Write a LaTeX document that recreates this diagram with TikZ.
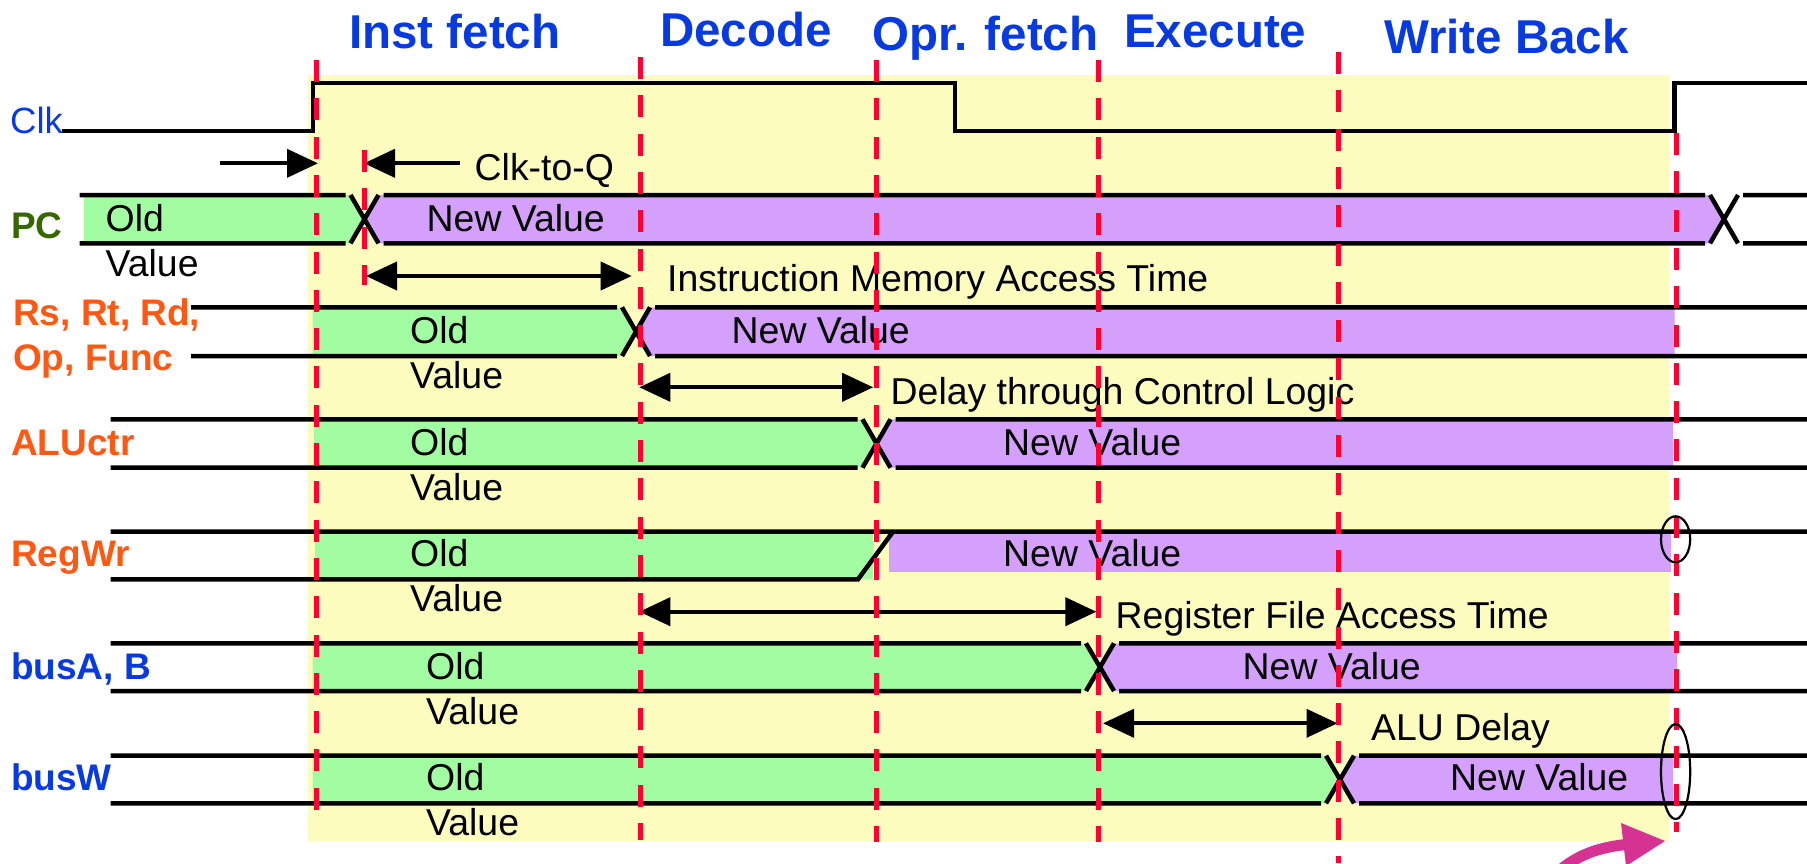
\documentclass[tikz,border=0pt]{standalone}
\usepackage{fontspec}
\setmainfont{Liberation Sans}
\usetikzlibrary{arrows.meta}

\definecolor{phaseblue}{RGB}{8,58,226}
\definecolor{pcgreen}{RGB}{54,104,0}
\definecolor{ctrlorange}{RGB}{255,88,18}
\definecolor{stagebg}{RGB}{252,252,190}
\definecolor{oldfillc}{RGB}{162,253,162}
\definecolor{newfillc}{RGB}{212,160,252}
\definecolor{edgered}{RGB}{255,0,51}
\definecolor{notepink}{RGB}{214,50,145}

\tikzset{
  sig/.style={line width=4.5, black},
  oldfill/.style={fill=oldfillc},
  newfill/.style={fill=newfillc},
  edge/.style={edgered, line width=5, dash pattern=on 22 off 16.3},
  dimarrow/.style={line width=4, black},
  phase/.style={font=\bfseries\fontsize{47.5}{50}\selectfont, text=phaseblue, anchor=base west, inner sep=0},
  signame/.style={font=\bfseries\fontsize{37}{40}\selectfont, anchor=base west, inner sep=0},
  val/.style={font=\fontsize{37.4}{40}\selectfont, anchor=base west, inner sep=0},
  ringmark/.style={line width=2.2, black},
}

% one bus row: #1 top, #2 bottom, #3 line start, #4 fill start, #5 crossing x, #6 fill end
\newcommand\timingrow[6]{%
  \pgfmathsetmacro\rmid{(#1+#2)/2}
  \fill[oldfill] (#4,#1) -- (#5-14,#1) -- (#5,\rmid) -- (#5-14,#2) -- (#4,#2) -- cycle;
  \fill[newfill] (#5+14,#1) -- (#5,\rmid) -- (#5+14,#2) -- (#6,#2) -- (#6,#1) -- cycle;
  \draw[sig] (#3,#1) -- (#5-19,#1) (#5+19,#1) -- (1807,#1)
             (#3,#2) -- (#5-19,#2) (#5+19,#2) -- (1807,#2)
             (#5-14,#1) -- (#5+14,#2) (#5-14,#2) -- (#5+14,#1);
}

\begin{document}
\begin{tikzpicture}[x=1pt,y=-1pt]
\useasboundingbox (0,0) rectangle (1807,863);

% stage background
\fill[stagebg] (308,75) rectangle (1668.5,841);

% ---- clock ----
\coordinate (clkstart) at (62,131);
\draw[sig] (clkstart) -- (313,131) -- (313,83) -- (955,83) -- (955,131)
  -- (1674.5,131) -- (1674.5,83) -- (1807,83);

% ---- PC ----
\fill[oldfill] (84,195) -- (350.5,195) -- (364.5,219.2) -- (350.5,243.3) -- (84,243.3) -- cycle;
\fill[newfill] (378.5,195) -- (364.5,219.2) -- (378.5,243.3) -- (1710,243.3) -- (1724,219.2) -- (1710,195) -- cycle;
\draw[sig] (79.5,195) -- (345.5,195) (383.5,195) -- (1705,195) (1743,195) -- (1807,195)
           (79.5,243.3) -- (345.5,243.3) (383.5,243.3) -- (1705,243.3) (1743,243.3) -- (1807,243.3)
           (350.5,195) -- (378.5,243.3) (350.5,243.3) -- (378.5,195)
           (1710,195) -- (1738,243.3) (1710,243.3) -- (1738,195);

% ---- Rs, Rt, Rd, Op, Func ----
\timingrow{307.3}{356}{191}{312.5}{636}{1674.5}

% ---- ALUctr ----
\timingrow{419.3}{467.7}{110.7}{314}{876.5}{1673}

% ---- RegWr: rises from old value to 1 ----
\fill[oldfill] (315,531.7) rectangle (873,579.3);
\fill[newfill] (889,534) rectangle (1671,572);
\draw[sig] (110.7,531.7) -- (1807,531.7)
           (110.7,579.3) -- (858,579.3) -- (893,531.7);

% ---- busA, B ----
\timingrow{643.3}{691}{110.7}{312.5}{1100}{1677}

% ---- busW ----
\timingrow{755.7}{803.3}{110.7}{312.5}{1340}{1673}

% ---- signal names ----
\node[phase, font=\fontsize{36.5}{40}\selectfont] (nclk) at (10,133) {Clk};
\node[signame, text=pcgreen] (npc) at (11,238) {PC};
\node[signame, text=ctrlorange] (nrs) at (13,325) {Rs, Rt, Rd,};
\node[signame, text=ctrlorange] (nop) at (13,370) {Op, Func};
\node[signame, text=ctrlorange] (nalu) at (11,455) {ALUctr};
\node[signame, text=ctrlorange] (nreg) at (11,566.7) {RegWr};
\node[signame, text=phaseblue] (nbusa) at (11,679) {busA, B};
\node[signame, text=phaseblue] (nbusw) at (11,790.7) {busW};

% ---- stage titles ----
\node[phase] (tif) at (349,48) {Inst fetch};
\node[phase] (tdec) at (660,46) {Decode};
\node[phase] (topr) at (872,50.5) {Opr. fetch};
\node[phase] (texe) at (1124,47.5) {Execute};
\node[phase] (twb) at (1384,53) {Write Back};

% ---- values ----
\node[val] (pcold) at (105.5,231.7) {Old};
\node[val] (pcoldv) at (105.5,276) {Value};
\node[val] (pcnew) at (426.5,231.7) {New Value};
\node[val] (rsold) at (410,343.3) {Old};
\node[val] (rsoldv) at (410,388.3) {Value};
\node[val] (rsnew) at (731.5,343.3) {New Value};
\node[val] (aluold) at (410,455) {Old};
\node[val] (aluoldv) at (410,500) {Value};
\node[val] (alunew) at (1003,455) {New Value};
\node[val] (regold) at (410,566.7) {Old};
\node[val] (regoldv) at (410,611.7) {Value};
\node[val] (regnew) at (1003,566.7) {New Value};
\node[val] (baold) at (426,679) {Old};
\node[val] (baoldv) at (426,724) {Value};
\node[val] (banew) at (1242.5,679) {New Value};
\node[val] (bwold) at (426,790.7) {Old};
\node[val] (bwoldv) at (426,835) {Value};
\node[val] (bwnew) at (1450,790.7) {New Value};

% ---- delay annotations ----
\node[val] (lckq) at (474.5,180) {Clk-to-Q};
\node[val] (limem) at (667,291) {Instruction Memory Access Time};
\node[val] (lctrl) at (890.5,404) {Delay through Control Logic};
\node[val] (lrf) at (1115.5,628.3) {Register File Access Time};
\node[val] (lalu) at (1371,740) {ALU Delay};

\coordinate (ckqa) at (220,163.3);
\coordinate (ckqb) at (318,163.3);
\coordinate (ckqc) at (459.8,163.3);
\coordinate (ckqd) at (364,163.3);
\coordinate (imema) at (366,276);
\coordinate (imemb) at (631.7,276);
\coordinate (ctrla) at (639.3,387.3);
\coordinate (ctrlb) at (873.2,387.3);
\coordinate (rfa) at (639.3,611.7);
\coordinate (rfb) at (1096.4,611.7);
\coordinate (alua) at (1103,723.3);
\coordinate (alub) at (1337.5,723.3);

\draw[dimarrow, -{Triangle[length=31,width=28]}] (ckqa) -- (ckqb);
\draw[dimarrow, -{Triangle[length=31,width=28]}] (ckqc) -- (ckqd);
\draw[dimarrow, {Triangle[length=31,width=28]}-{Triangle[length=31,width=28]}] (imema) -- (imemb);
\draw[dimarrow, {Triangle[length=31,width=28]}-{Triangle[length=31,width=28]}] (ctrla) -- (ctrlb);
\draw[dimarrow, {Triangle[length=31,width=28]}-{Triangle[length=31,width=28]}] (rfa) -- (rfb);
\draw[dimarrow, {Triangle[length=31,width=28]}-{Triangle[length=31,width=28]}] (alua) -- (alub);

% ---- clock edges ----
\draw[edge] (316,60) -- (316,822);
\draw[edge] (364,150) -- (364,285);
\draw[edge] (640,57) -- (640,840);
\draw[edge] (876.5,60) -- (876.5,842);
\draw[edge] (1098,60) -- (1098,842);
\draw[edge] (1338,52) -- (1338,863);
\draw[edge] (1676,133) -- (1676,832);

% ---- marks at the next edge ----
\draw[ringmark] (1675.6,539.3) ellipse [x radius=14.6, y radius=23];
\draw[ringmark] (1675.6,771.6) ellipse [x radius=14.6, y radius=47.5];

% pointer to the next edge
\begin{scope}
\clip (0,0) rectangle (1807,863);
\draw[notepink, line width=11] (1558,872) .. controls (1578,854) and (1600,847) .. (1630,844);
\fill[notepink] (1621,823) -- (1665,841) -- (1626,866) -- cycle;
\end{scope}
\end{tikzpicture}
\end{document}
